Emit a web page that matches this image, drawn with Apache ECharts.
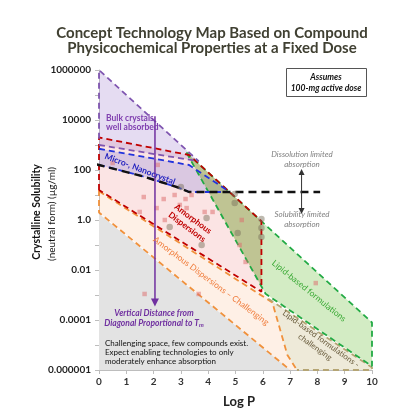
<!DOCTYPE html>
<html><head><meta charset="utf-8">
<script src="https://cdn.jsdelivr.net/npm/echarts@6/dist/echarts.min.js"></script>
<style>html,body{margin:0;padding:0;background:#fff}#c{width:393px;height:415px}</style>
</head><body><div id="c"></div>
<script>
// ---- axis ticks ----
const xTickValues = [0,1,2,3,4,5,6,7,8,9,10];
const yTickExp  = [-6,-4,-2,0,2,4,6];
const yTickText = ['0.000001','0.0001','0.01','1.0','100','10000','1000000'];

// ---- compounds (Log P, crystalline solubility in ug/ml) ----
const squareLogP = [0.50,2.15,1.64,2.37,1.49,2.11,2.41,2.77,3.17,2.96,3.39,3.21,3.87,4.16,5.23,5.15,5.37,7.94,1.67,3.65];
const squareSol  = [190,160,8.3,6.9,2.1,3.0,1.0,10,6.9,4.0,10,3.0,2.1,2.1,1.0,0.1,0.021,0.003,0.0011,0.0011];
const circleLogP = [3.0,4.97,4.97,3.94,2.59,3.76,5.08,5.95,5.95,5.95];
const circleSol  = [21,11,4.8,1.2,0.52,0.1,0.3,1.1,0.48,0.21];

// ---- technology regions (Log P, log10 solubility) ----
const grayRegion    = [[0,0.25],[7.0,-6],[0,-6]];
const orangeRegion  = [[0,1.2],[5.95,-2.87],[6.35,-3.3],[6.9,-5.4],[7.25,-6],[7.0,-6],[0,0.3]];
const pinkRegion    = [[0,3.3],[3.3,2.6],[5.95,-0.05],[5.95,-2.87],[0,1.2]];
const purpleRegion  = [[0,6],[3.65,2.35],[0,3.0]];
const blueRegion    = [[0,2.85],[3.3,2.2],[4.75,1.15],[3.3,1.12],[2.9,1.3],[1.6,1.75],[0,2.2]];
const greenRegion   = [[3.2,2.7],[10,-4.1],[10,-5.85],[6.1,-2.95]];
const khakiRegion   = [[3.2,2.7],[5.95,-0.05],[5.95,-2.66]];
const tanRegion     = [[6.2,-3.15],[10,-5.9],[10,-6],[7.25,-6],[6.9,-5.4],[6.35,-3.3]];

// ---- boundary lines ----
const purpleEdge    = [[0,3.25],[0,6],[3.65,2.35]];
const purpleLower   = [[0,3.0],[3.65,2.35]];
const redEdge       = [[0,1.2],[0,3.3],[3.3,2.6],[5.95,-0.05],[5.95,-2.87],[0,1.2]];
const blueUpper     = [[0,2.85],[3.3,2.2],[4.75,1.15]];
const blueLower     = [[0,2.2],[1.6,1.75],[2.9,1.3],[3.3,1.12],[4.75,1.12]];
const blackLine     = [[-0.55,2.35],[0,2.2],[1.6,1.75],[2.9,1.3],[3.3,1.12],[8.1,1.12]];
const orangeEdge    = [[0,1.15],[6.35,-3.3],[6.9,-5.4],[7.25,-6]];
const orangeLower   = [[0,1.2],[0,0.3],[7.0,-6]];
const greenEdge     = [[3.2,2.7],[10,-4.1],[10,-5.85],[6.1,-2.95],[3.2,2.7]];
const tanEdge       = [[6.2,-3.15],[10,-5.9],[10,-6],[7.25,-6]];
const tmArrow       = [[2.05,4.15],[2.05,-3.3]];
const limitArrow    = [[7.42,1.92],[7.42,0.36]];

function poly(verts, fill) {
  return {
    type: 'custom', coordinateSystem: 'cartesian2d', silent: true, z: 1,
    data: verts, encode: {x: 0, y: 1},
    renderItem: function (params, api) {
      if (params.dataIndex !== 0) return null;
      return { type: 'polygon', shape: { points: verts.map(v => api.coord(v)) }, style: { fill: fill } };
    }
  };
}
function dash(pts, color, width, pattern) {
  return { type: 'line', data: pts, symbol: 'none', silent: true, z: 3, clip: false,
    lineStyle: { color: color, width: width, type: pattern } };
}

const chart = echarts.init(document.getElementById('c'), null, {renderer: 'canvas'});
const FONT = 'Lato, "Open Sans", sans-serif';
function txt(x, y, s, o) {
  return Object.assign({ type: 'text', x: x, y: y, silent: true, z: 100,
    style: Object.assign({ text: s, fontFamily: FONT, fontSize: 9, textAlign: 'center', textVerticalAlign: 'middle', fill: '#222' }, o.style || {}) },
    o.rotation != null ? { rotation: o.rotation } : {});
}

chart.setOption({
  animation: false,
  grid: { left: 99, right: 21, top: 70, bottom: 45 },
  xAxis: {
    type: 'value', min: 0, max: 10, interval: 1,
    axisLine: { show: true, onZero: false, lineStyle: { color: '#bdbdbd', width: 1 } },
    axisTick: { show: true, length: 4, lineStyle: { color: '#bdbdbd' } },
    splitLine: { show: false },
    axisLabel: { color: '#333', fontSize: 10, fontWeight: 'bold', fontFamily: FONT, margin: 7,
      formatter: v => xTickValues.indexOf(v) >= 0 ? String(v) : '' }
  },
  yAxis: {
    type: 'value', min: -6, max: 6, interval: 1,
    axisLine: { show: true, onZero: false, lineStyle: { color: '#bdbdbd', width: 1 } },
    axisTick: { show: true, length: 4, lineStyle: { color: '#bdbdbd' } },
    splitLine: { show: false },
    axisLabel: { color: '#222', fontSize: 10, fontWeight: 'bold', fontFamily: FONT, margin: 8,
      formatter: v => { const i = yTickExp.indexOf(v); return i >= 0 ? yTickText[i] : ''; } }
  },
  series: [
    poly(grayRegion, '#e3e3e3'),
    poly(orangeRegion, 'rgba(250,185,140,0.22)'),
    poly(pinkRegion, 'rgba(235,130,130,0.22)'),
    poly(purpleRegion, 'rgba(175,145,215,0.32)'),
    poly(blueRegion, 'rgba(120,120,220,0.25)'),
    poly(greenRegion, 'rgba(140,205,100,0.38)'),
    poly(khakiRegion, 'rgba(150,140,70,0.30)'),
    poly(tanRegion, 'rgba(200,185,130,0.30)'),
    dash(orangeLower, '#f0913c', 1.8, [6,4]),
    dash(orangeEdge, '#f0913c', 1.8, [6,4]),
    dash(tanEdge, '#b5a574', 1.8, [6,4]),
    dash(greenEdge, '#22aa44', 1.8, [6,4]),
    dash(redEdge, '#c00000', 1.8, [6,4]),
    dash(purpleEdge, '#7f55b0', 1.8, [6,4]),
    dash(purpleLower, '#7f55b0', 1.8, [6,4]),
    dash(blueUpper, '#2233dd', 1.8, [6,4]),
    dash(blueLower, '#2233dd', 1.8, [6,4]),
    dash(blackLine, '#111', 2.4, [8,5]),
    { type: 'line', silent: true, z: 5, symbolSize: 8, lineStyle: { color: '#7030a0', width: 1.5 },
      itemStyle: { color: '#7030a0' },
      data: [ { value: tmArrow[0], symbol: 'none' }, { value: tmArrow[1], symbol: 'triangle', symbolRotate: 180 } ] },
    { type: 'line', silent: true, z: 5, symbolSize: 6, lineStyle: { color: '#333', width: 1 },
      itemStyle: { color: '#333' },
      data: [ { value: limitArrow[0], symbol: 'triangle' }, { value: limitArrow[1], symbol: 'triangle', symbolRotate: 180 } ] },
    { type: 'scatter', z: 4, symbol: 'rect', symbolSize: 4.5, silent: true,
      itemStyle: { color: 'rgba(220,110,110,0.65)' },
      data: squareLogP.map((x, i) => [x, Math.log10(squareSol[i])]) },
    { type: 'scatter', z: 4, symbol: 'circle', symbolSize: 6.5, silent: true,
      itemStyle: { color: 'rgba(120,110,90,0.6)' },
      data: circleLogP.map((x, i) => [x, Math.log10(circleSol[i])]) }
  ],
  graphic: [
    txt(212, 33, 'Concept Technology Map Based on Compound', { style: { fontSize: 15, fontWeight: 'bold', fill: '#404032' } }),
    txt(212, 48, 'Physicochemical Properties at a Fixed Dose', { style: { fontSize: 15, fontWeight: 'bold', fill: '#404032' } }),
    txt(37, 212, 'Crystalline Solubility', { rotation: Math.PI/2, style: { fontSize: 10.5, fontWeight: 'bold', fill: '#111' } }),
    txt(52, 214, '(neutral form) (\u00b5g/ml)', { rotation: Math.PI/2, style: { fontSize: 10, fill: '#111' } }),
    txt(239, 402, 'Log P', { style: { fontSize: 13, fontWeight: 'bold', fill: '#222' } }),
    { type: 'rect', shape: { x: 286.5, y: 68.5, width: 80, height: 28 }, style: { fill: '#fff', stroke: '#555', lineWidth: 1 }, z: 99, silent: true },
    txt(326, 77, 'Assumes', { style: { fontSize: 8.5, fontWeight: 'bold', fontStyle: 'italic', fill: '#111' } }),
    txt(326, 88, '100-mg active dose', { style: { fontSize: 8.5, fontWeight: 'bold', fontStyle: 'italic', fill: '#111' } }),
    txt(106, 118, 'Bulk crystals', { style: { textAlign: 'left', fontSize: 8.5, fontWeight: 'bold', fill: '#8040b0' } }),
    txt(106, 127, 'well absorbed', { style: { textAlign: 'left', fontSize: 8.5, fontWeight: 'bold', fill: '#8040b0' } }),
    txt(140, 169, 'Micro-, Nanocrystal', { rotation: -0.36, style: { fontSize: 8.5, fontWeight: 'bold', fill: '#1f1fbf' } }),
    txt(190, 223, 'Amorphous\nDispersions', { rotation: -0.64, style: { fontSize: 8.5, fontWeight: 'bold', fill: '#c00000', lineHeight: 10 } }),
    txt(211, 281, 'Amorphous Dispersions \u2013 Challenging', { rotation: -0.64, style: { fontSize: 8.5, fill: '#f07d3c' } }),
    txt(309, 291, 'Lipid-based formulations', { rotation: -0.68, style: { fontSize: 8.5, fill: '#3aaa35' } }),
    txt(318, 343, 'Lipid-based formulations -\nchallenging', { rotation: -0.62, style: { fontSize: 8, fill: '#6b5e3f', lineHeight: 10 } }),
    txt(154, 313, 'Vertical Distance from', { style: { fontSize: 8.5, fontWeight: 'bold', fontStyle: 'italic', fill: '#7030a0' } }),
    txt(154, 323, '{a|Diagonal Proportional to T}{b|m}', { style: { fontSize: 8.5, fontWeight: 'bold', fontStyle: 'italic', fill: '#7030a0',
      rich: { a: { fontSize: 8.5, fontWeight: 'bold', fontStyle: 'italic', fontFamily: FONT, fill: '#7030a0' },
              b: { fontSize: 6, fontWeight: 'bold', fontStyle: 'italic', fontFamily: FONT, fill: '#7030a0', padding: [5,0,0,0] } } } }),
    txt(105, 343, 'Challenging space, few compounds exist.', { style: { textAlign: 'left', fontSize: 8, fill: '#111' } }),
    txt(105, 352, 'Expect enabling technologies to only', { style: { textAlign: 'left', fontSize: 8, fill: '#111' } }),
    txt(105, 361, 'moderately enhance absorption', { style: { textAlign: 'left', fontSize: 8, fill: '#111' } }),
    txt(302, 154, 'Dissolution limited', { style: { fontSize: 8, fontStyle: 'italic', fill: '#808080' } }),
    txt(302, 164, 'absorption', { style: { fontSize: 8, fontStyle: 'italic', fill: '#808080' } }),
    txt(302, 214, 'Solubility limited', { style: { fontSize: 8, fontStyle: 'italic', fill: '#808080' } }),
    txt(302, 224, 'absorption', { style: { fontSize: 8, fontStyle: 'italic', fill: '#808080' } })
  ]
});
</script></body></html>
